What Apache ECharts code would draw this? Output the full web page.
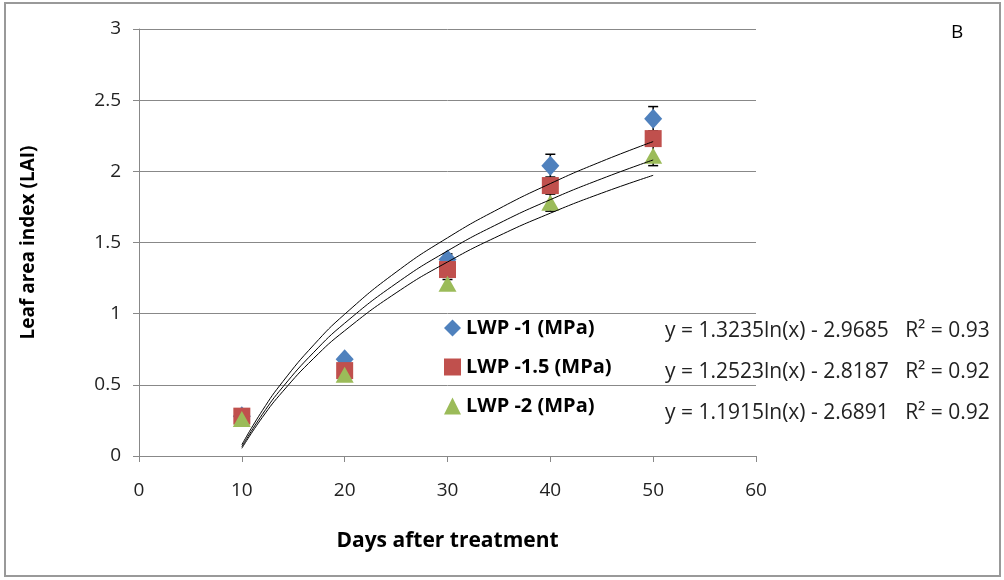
<!DOCTYPE html>
<html>
<head>
<meta charset="utf-8">
<script src="https://cdn.jsdelivr.net/npm/echarts@6/dist/echarts.min.js"></script>
<style>
  html, body { margin: 0; padding: 0; background: #fff; }
  #chart { width: 1004px; height: 580px; }
</style>
</head>
<body>
<div id="chart"></div>
<script>
var Chart = echarts.init(document.getElementById('chart'));

// measured points (days, LAI)
var days = [10, 20, 30, 40, 50];
var lwp1 = [0.28, 0.68, 1.38, 2.04, 2.37];
var lwp15 = [0.28, 0.60, 1.31, 1.90, 2.23];
var lwp2 = [0.26, 0.57, 1.21, 1.78, 2.11];
// error bar half widths
var err1 = [0.02, 0.02, 0.04, 0.08, 0.085];
var err15 = [0.02, 0.02, 0.03, 0.04, 0.04];
var err2 = [0.02, 0.02, 0.03, 0.06, 0.07];

// logarithmic trend lines
var trendX = [10, 12, 14, 17, 20, 25, 30, 35, 40, 45, 50];
var trend1 = [0.079, 0.320, 0.524, 0.781, 0.996, 1.292, 1.533, 1.737, 1.914, 2.070, 2.209];
var trend15 = [0.065, 0.293, 0.486, 0.729, 0.933, 1.212, 1.441, 1.634, 1.801, 1.948, 2.080];
var trend2 = [0.054, 0.272, 0.455, 0.687, 0.880, 1.146, 1.363, 1.547, 1.706, 1.847, 1.972];

var names = ['LWP -1 (MPa)', 'LWP -1.5 (MPa)', 'LWP -2 (MPa)'];
var equations = [
    'y = 1.3235ln(x) - 2.9685   R\u00b2 = 0.93',
    'y = 1.2523ln(x) - 2.8187   R\u00b2 = 0.92',
    'y = 1.1915ln(x) - 2.6891   R\u00b2 = 0.92'
];
var xTicks = [0, 10, 20, 30, 40, 50, 60];
var yTicks = [0, 0.5, 1, 1.5, 2, 2.5, 3];

var font = '"Open Sans", "DejaVu Sans", sans-serif';

function pairs(xs, ys) {
    return xs.map(function (x, i) { return [x, ys[i]]; });
}
function errData(ys, es) {
    return days.map(function (x, i) { return [x, ys[i] - es[i], ys[i] + es[i]]; });
}
function errSeries(ys, es) {
    return {
        type: 'custom',
        silent: true,
        z: 1,
        data: errData(ys, es),
        renderItem: function (params, api) {
            var lo = api.coord([api.value(0), api.value(1)]);
            var hi = api.coord([api.value(0), api.value(2)]);
            var w = 5;
            var st = { stroke: '#000', lineWidth: 1.5 };
            return {
                type: 'group',
                children: [
                    { type: 'line', shape: { x1: lo[0], y1: lo[1], x2: hi[0], y2: hi[1] }, style: st },
                    { type: 'line', shape: { x1: lo[0] - w, y1: lo[1], x2: lo[0] + w, y2: lo[1] }, style: st },
                    { type: 'line', shape: { x1: hi[0] - w, y1: hi[1], x2: hi[0] + w, y2: hi[1] }, style: st }
                ]
            };
        }
    };
}
function trendSeries(ys) {
    return {
        type: 'line',
        data: pairs(trendX, ys),
        smooth: true,
        showSymbol: false,
        silent: true,
        z: 3,
        lineStyle: { color: '#000', width: 1 }
    };
}

option = {
    animation: false,
    textStyle: { fontFamily: font },
    grid: { left: 139, right: 248, top: 29, bottom: 124 },
    xAxis: {
        type: 'value',
        min: xTicks[0],
        max: xTicks[xTicks.length - 1],
        interval: 10,
        name: 'Days after treatment',
        nameLocation: 'middle',
        nameGap: 75,
        nameTextStyle: { fontSize: 21, fontWeight: 'bold', color: '#000', fontFamily: font },
        axisLine: { lineStyle: { color: '#888' } },
        axisTick: { show: true, length: 6, lineStyle: { color: '#888' } },
        axisLabel: { fontSize: 19, color: '#222', margin: 25 },
        splitLine: { show: false }
    },
    yAxis: {
        type: 'value',
        min: yTicks[0],
        max: yTicks[yTicks.length - 1],
        interval: 0.5,
        name: 'Leaf area index (LAI)',
        nameLocation: 'middle',
        nameGap: 101,
        nameTextStyle: { fontSize: 19, fontWeight: 'bold', color: '#000', fontFamily: font },
        axisLine: { show: true, lineStyle: { color: '#888' } },
        axisTick: { show: true, length: 6, lineStyle: { color: '#888' } },
        axisLabel: { fontSize: 19, color: '#222', margin: 18 },
        splitLine: { show: true, lineStyle: { color: '#888', width: 1 } }
    },
    legend: {
        orient: 'vertical',
        left: 439,
        top: 313,
        itemGap: 19,
        itemWidth: 17,
        itemHeight: 17,
        data: names,
        textStyle: { fontSize: 20, fontWeight: 'bold', color: '#000', fontFamily: font }
    },
    graphic: [
        { type: 'rect', shape: { x: 5, y: 3, width: 995, height: 573 }, style: { fill: 'none', stroke: '#999', lineWidth: 2 }, silent: true },
        { type: 'text', left: 951, top: 23, style: { text: 'B', fontSize: 19, fill: '#000', fontFamily: font } },
        { type: 'text', left: 665, top: 321, style: { text: equations[0], fontSize: 21, fill: '#222', fontFamily: font } },
        { type: 'text', left: 665, top: 362, style: { text: equations[1], fontSize: 21, fill: '#222', fontFamily: font } },
        { type: 'text', left: 665, top: 403, style: { text: equations[2], fontSize: 21, fill: '#222', fontFamily: font } }
    ],
    series: [
        errSeries(lwp1, err1),
        errSeries(lwp15, err15),
        errSeries(lwp2, err2),
        {
            name: names[0], type: 'scatter', symbol: 'diamond', symbolSize: [18, 20], z: 2,
            itemStyle: { color: '#4F81BD', opacity: 1 }, data: pairs(days, lwp1)
        },
        {
            name: names[1], type: 'scatter', symbol: 'rect', symbolSize: 17, z: 2,
            itemStyle: { color: '#C0504D', opacity: 1 }, data: pairs(days, lwp15)
        },
        {
            name: names[2], type: 'scatter', symbol: 'triangle', symbolSize: [18, 16], z: 2,
            itemStyle: { color: '#9BBB59', opacity: 1 }, data: pairs(days, lwp2)
        },
        trendSeries(trend1),
        trendSeries(trend15),
        trendSeries(trend2)
    ]
};
Chart.setOption(option);
</script>
</body>
</html>
